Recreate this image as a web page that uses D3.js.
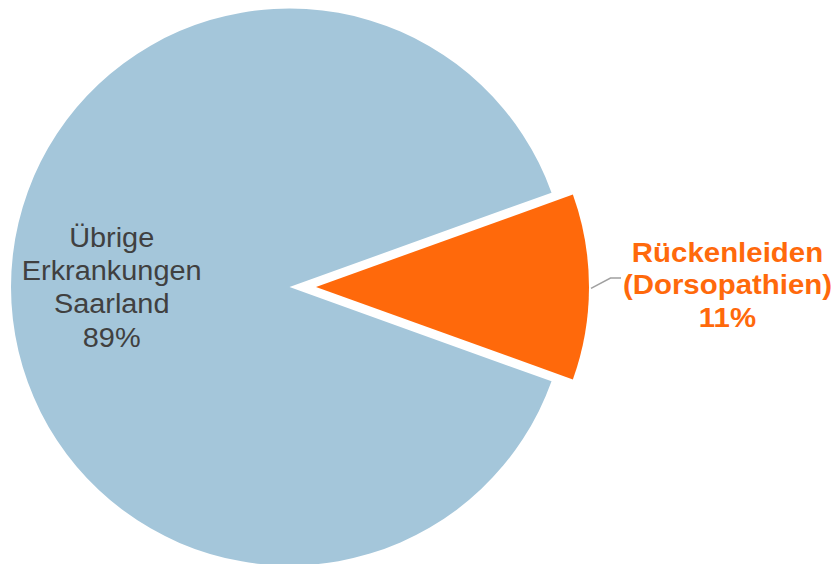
<!DOCTYPE html>
<html>
<head>
<meta charset="utf-8">
<script src="https://cdn.jsdelivr.net/npm/d3@7"></script>
<style>
  html, body { margin: 0; padding: 0; background: #ffffff; }
  svg { display: block; }
</style>
</head>
<body>
<svg id="chart" width="839" height="564"></svg>
<script>
// Share of sick days, Saarland
const categories = ["Übrige Erkrankungen Saarland", "Rückenleiden (Dorsopathien)"];
const values = [89, 11];
const labelLines = [
  ["Übrige", "Erkrankungen", "Saarland", "89%"],
  ["Rückenleiden", "(Dorsopathien)", "11%"]
];
const colors = ["#a4c6da", "#ff690b"];
const textColors = ["#404040", "#ff690b"];

const svg = d3.select("#chart");
const cx = 289.5, cy = 287;
const radius = 278.5;

// Rotate so the small slice is centred on the right-hand horizontal
const smallShare = values[1] / d3.sum(values);
const start = Math.PI / 2 - smallShare * Math.PI;

// arcs[0] = large slice, arcs[1] = small slice (wraps past 2π)
const arcs = d3.pie().sort(null).value(d => d)
  .startAngle(start + 2 * Math.PI * smallShare)
  .endAngle(start + 2 * Math.PI * smallShare + 2 * Math.PI)(values);

const arcBig = d3.arc().innerRadius(0).outerRadius(radius);
const sliceOffset = 26.5;
const arcSmall = d3.arc().innerRadius(0).outerRadius(radius - 5.5);

const g = svg.append("g").attr("transform", `translate(${cx},${cy})`);

g.append("path")
  .attr("d", arcBig(arcs[0]))
  .attr("fill", colors[0]);

const mid = (arcs[1].startAngle + arcs[1].endAngle) / 2;
const ox = Math.sin(mid) * sliceOffset, oy = -Math.cos(mid) * sliceOffset;
g.append("path")
  .attr("transform", `translate(${ox},${oy})`)
  .attr("d", arcSmall(arcs[1]))
  .attr("fill", colors[1]);

// Leader line for the small slice
const edgeR = radius - 5.5 + sliceOffset;
const p0 = [Math.sin(mid) * (edgeR + 2), -Math.cos(mid) * (edgeR + 2) + 1.3];
const p1 = [p0[0] + 19.5, p0[1] - 10.3];
const p2 = [p1[0] + 10.5, p1[1]];
g.append("path")
  .attr("d", d3.line()([p0, p1, p2]))
  .attr("fill", "none")
  .attr("stroke", "#a0a0a0")
  .attr("stroke-width", 1.5);

const font = "'Liberation Sans', Arial, Helvetica, sans-serif";

// Label inside the large slice
const leftX = 111.7;
const leftLabel = svg.append("g")
  .attr("transform", `translate(${leftX},0) scale(1.07,1)`)
  .append("text")
  .attr("x", 0)
  .attr("y", 246.7)
  .attr("text-anchor", "middle")
  .attr("font-family", font)
  .attr("font-size", 27)
  .attr("fill", textColors[0]);
labelLines[0].forEach((t, i) => {
  leftLabel.append("tspan").attr("x", 0).attr("dy", i === 0 ? 0 : 33.3).text(t);
});

// Label beside the small slice
const rightX = 727.5;
const rightLabel = svg.append("g")
  .attr("transform", `translate(${rightX},0) scale(1.09,1)`)
  .append("text")
  .attr("x", 0)
  .attr("y", 261.7)
  .attr("text-anchor", "middle")
  .attr("font-family", font)
  .attr("font-weight", "bold")
  .attr("font-size", 27)
  .attr("fill", textColors[1]);
labelLines[1].forEach((t, i) => {
  rightLabel.append("tspan").attr("x", 0).attr("dy", i === 0 ? 0 : 32.5).text(t);
});
</script>
</body>
</html>
